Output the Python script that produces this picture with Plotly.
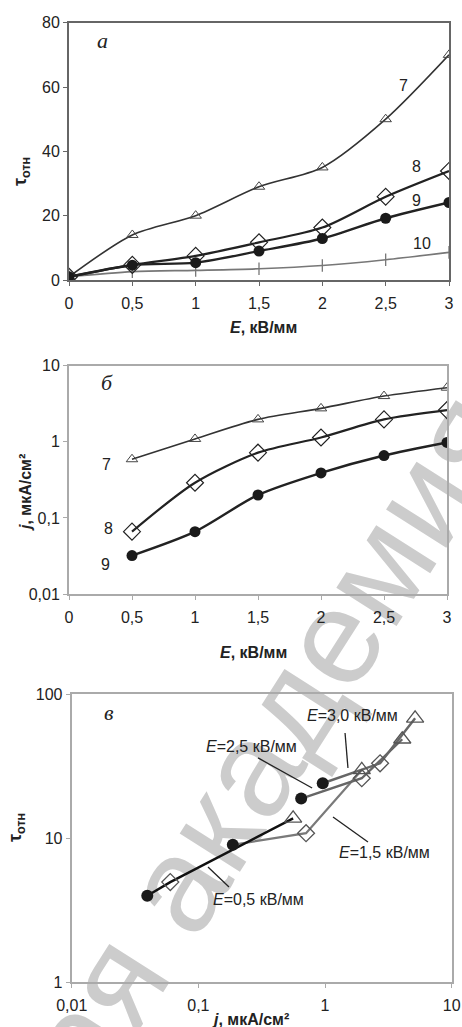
import base64
import plotly.graph_objects as go

# ---------------- data ----------------
E_a = [0, 0.5, 1, 1.5, 2, 2.5, 3]
tau7 = [1, 14, 20, 29, 35, 50, 70]
tau8 = [1, 4.7, 7.5, 11.7, 16.3, 25.9, 33.9]
tau9 = [1, 4.6, 5.4, 9, 12.9, 19.2, 24.1]
tau10 = [1, 2.6, 3.0, 3.5, 4.5, 6.3, 8.6]

E_b = [0.5, 1, 1.5, 2, 2.5, 3]
j7 = [0.59, 1.09, 1.97, 2.75, 3.99, 5.14]
j8 = [0.066, 0.29, 0.72, 1.14, 1.97, 2.61]
j9 = [0.032, 0.066, 0.2, 0.39, 0.66, 0.98]

# panel в: iso-E lines through (circle, diamond, triangle)
j_E05 = [0.0395, 0.060, 0.56]
t_E05 = [3.97, 4.94, 13.7]
j_E15 = [0.187, 0.708, 1.95]
t_E15 = [8.97, 10.8, 29.7]
j_E25 = [0.648, 1.95, 4.07]
t_E25 = [18.8, 26.0, 48.5]
j_E30 = [0.959, 2.72, 5.14]
t_E30 = [24.0, 33.0, 67.8]

xa_ticks = [0, 0.5, 1, 1.5, 2, 2.5, 3]
xa_text = ["0", "0,5", "1", "1,5", "2", "2,5", "3"]
ya_ticks = [0, 20, 40, 60, 80]
ya_text = ["0", "20", "40", "60", "80"]
yb_ticks = [0.01, 0.1, 1, 10]
yb_text = ["0,01", "0,1", "1", "10"]
xc_ticks = [0.01, 0.1, 1, 10]
xc_text = ["0,01", "0,1", "1", "10"]
yc_ticks = [1, 10, 100]
yc_text = ["1", "10", "100"]

W, H = 462, 1027
FONT = "Liberation Sans, Arial, sans-serif"
SERIF = "Liberation Serif, Times New Roman, serif"

fig = go.Figure()

# ---- panel a ----
fig.add_trace(go.Scatter(x=E_a, y=tau10, mode="lines+markers", xaxis="x", yaxis="y",
                         line=dict(color="#777", width=1.6, shape="spline", smoothing=0.8),
                         marker=dict(symbol="line-ns", size=9, line=dict(color="#777", width=1.3))))
fig.add_trace(go.Scatter(x=E_a, y=tau7, mode="lines+markers", xaxis="x", yaxis="y",
                         line=dict(color="#333", width=1.6, shape="spline", smoothing=0.8),
                         marker=dict(symbol="triangle-up-open", size=10, color="#444", line=dict(width=1))))
fig.add_trace(go.Scatter(x=E_a, y=tau8, mode="lines+markers", xaxis="x", yaxis="y",
                         line=dict(color="#222", width=2.2, shape="spline", smoothing=0.8),
                         marker=dict(symbol="diamond-open", size=13, color="#222", line=dict(width=1.2))))
fig.add_trace(go.Scatter(x=E_a, y=tau9, mode="lines+markers", xaxis="x", yaxis="y",
                         line=dict(color="#222", width=2.4, shape="spline", smoothing=0.8),
                         marker=dict(symbol="circle", size=11, color="#1a1a1a")))

# ---- panel б ----
fig.add_trace(go.Scatter(x=E_b, y=j7, mode="lines+markers", xaxis="x2", yaxis="y2",
                         line=dict(color="#333", width=1.6, shape="spline", smoothing=0.8),
                         marker=dict(symbol="triangle-up-open", size=10, color="#444", line=dict(width=1))))
fig.add_trace(go.Scatter(x=E_b, y=j8, mode="lines+markers", xaxis="x2", yaxis="y2",
                         line=dict(color="#222", width=2.2, shape="spline", smoothing=0.8),
                         marker=dict(symbol="diamond-open", size=13, color="#222", line=dict(width=1.2))))
fig.add_trace(go.Scatter(x=E_b, y=j9, mode="lines+markers", xaxis="x2", yaxis="y2",
                         line=dict(color="#222", width=2.4, shape="spline", smoothing=0.8),
                         marker=dict(symbol="circle", size=11, color="#1a1a1a")))

# ---- panel в ----
series_c = [(j_E15, t_E15, "#7a7a7a", 2.2), (j_E25, t_E25, "#666", 2.4),
            (j_E30, t_E30, "#666", 2.4), (j_E05, t_E05, "#111", 2.4)]
for jj, tt, lc, lw in series_c:
    fig.add_trace(go.Scatter(x=jj, y=tt, mode="lines", xaxis="x3", yaxis="y3",
                             line=dict(color=lc, width=lw)))
all_series = [series_c[3], series_c[0], series_c[1], series_c[2]]
fig.add_trace(go.Scatter(x=[s[0][1] for s in all_series], y=[s[1][1] for s in all_series],
                         mode="markers", xaxis="x3", yaxis="y3",
                         marker=dict(symbol="diamond-open", size=13, color="#555", line=dict(width=1.3))))
fig.add_trace(go.Scatter(x=[s[0][2] for s in all_series], y=[s[1][2] for s in all_series],
                         mode="markers", xaxis="x3", yaxis="y3",
                         marker=dict(symbol="triangle-up-open", size=15, color="#555", line=dict(width=1.3))))
fig.add_trace(go.Scatter(x=[s[0][0] for s in all_series], y=[s[1][0] for s in all_series],
                         mode="markers", xaxis="x3", yaxis="y3",
                         marker=dict(symbol="circle", size=12, color="#1a1a1a")))


def px2paper_x(px):
    return px / W


def px2paper_y(py):
    return 1 - py / H


axis_common = dict(showline=True, mirror=True, ticks="outside", ticklen=4, showgrid=False,
                   zeroline=False, automargin=False,
                   tickfont=dict(family=FONT, size=16, color="#222"))

# background watermark (drawn below the plots)
svg = (f'<svg xmlns="http://www.w3.org/2000/svg" width="{W}" height="{H}" viewBox="0 0 {W} {H}">'
       '<text x="308" y="765" text-anchor="middle" font-family="Liberation Sans, Arial, sans-serif" '
       'font-size="135" fill="#cccccc" transform="rotate(-57.5 308 765)">ая академия</text></svg>')
wm_src = "data:image/svg+xml;base64," + base64.b64encode(svg.encode("utf-8")).decode()

fig.update_layout(
    width=W, height=H, margin=dict(l=0, r=0, t=0, b=0),
    paper_bgcolor="white", plot_bgcolor="rgba(0,0,0,0)", showlegend=False,
    images=[dict(source=wm_src, xref="paper", yref="paper", x=0, y=1, sizex=1, sizey=1,
                 xanchor="left", yanchor="top", sizing="stretch", layer="below")],
    xaxis=dict(domain=[69 / W, 449 / W], anchor="y", range=[0, 3], tickvals=xa_ticks, ticktext=xa_text,
               linecolor="#666", linewidth=2, tickcolor="#666", ticklabelstandoff=4, **axis_common),
    yaxis=dict(domain=[px2paper_y(280), px2paper_y(22.7)], anchor="x", range=[0, 80], tickvals=ya_ticks,
               ticktext=ya_text, linecolor="#666", linewidth=2, tickcolor="#666", **axis_common),
    xaxis2=dict(domain=[69 / W, 447 / W], anchor="y2", range=[0, 3], tickvals=xa_ticks, ticktext=xa_text,
                linecolor="#aaa", linewidth=2, tickcolor="#aaa", ticklabelstandoff=4, **axis_common),
    yaxis2=dict(domain=[px2paper_y(594), px2paper_y(365.7)], anchor="x2", type="log", range=[-2, 1],
                tickvals=yb_ticks, ticktext=yb_text, linecolor="#aaa", linewidth=2, tickcolor="#aaa",
                **axis_common),
    xaxis3=dict(domain=[71.7 / W, 451.7 / W], anchor="y3", type="log", range=[-2, 1], tickvals=xc_ticks,
                ticktext=xc_text, linecolor="#aaa", linewidth=2, tickcolor="#aaa", ticklabelstandoff=4,
                **axis_common),
    yaxis3=dict(domain=[px2paper_y(982), px2paper_y(694)], anchor="x3", type="log", range=[0, 2],
                tickvals=yc_ticks, ticktext=yc_text, linecolor="#aaa", linewidth=2, tickcolor="#aaa",
                **axis_common),
)

ann = []


def txt(x, y, text, xref="paper", yref="paper", size=16, family=FONT, angle=0, color="#222"):
    ann.append(dict(x=x, y=y, xref=xref, yref=yref, text=text, showarrow=False, textangle=angle,
                    font=dict(family=family, size=size, color=color), xanchor="center", yanchor="middle"))


# axis titles
txt(px2paper_x(263), px2paper_y(327), "<b><i>E</i>, кВ/мм</b>")
txt(px2paper_x(253), px2paper_y(652), "<b><i>E</i>, кВ/мм</b>")
txt(px2paper_x(250), px2paper_y(1019), "<b><i>j</i>, мкА/см²</b>")
txt(px2paper_x(22), px2paper_y(172), "<b>τ<sub>отн</sub></b>", angle=-90, size=18)
txt(px2paper_x(25), px2paper_y(493), "<b><i>j</i>, мкА/см²</b>", angle=-90)
txt(px2paper_x(16), px2paper_y(828), "<b>τ<sub>отн</sub></b>", angle=-90, size=18)

# panel letters
txt(0.268, 74.5, "<i>а</i>", "x", "y", size=22, family=SERIF)
txt(0.30, 0.773, "<i>б</i>", "x2", "y2", size=22, family=SERIF)
txt(-1.706, 1.875, "<i>в</i>", "x3", "y3", size=22, family=SERIF)

# curve labels
txt(2.637, 60.6, "7", "x", "y")
txt(2.747, 35.4, "8", "x", "y")
txt(2.747, 24.6, "9", "x", "y")
txt(2.787, 11.2, "10", "x", "y")
txt(0.30, -0.292, "7", "x2", "y2")
txt(0.31, -1.133, "8", "x2", "y2")
txt(0.29, -1.606, "9", "x2", "y2")

# panel в labels
txt(0.213, 1.854, "<i>E</i>=3,0 кВ/мм", "x3", "y3")
txt(-0.577, 1.632, "<i>E</i>=2,5 кВ/мм", "x3", "y3")
txt(0.473, 0.896, "<i>E</i>=1,5 кВ/мм", "x3", "y3")
txt(-0.529, 0.576, "<i>E</i>=0,5 кВ/мм", "x3", "y3")

fig.update_layout(annotations=ann)

# leader lines (log10 coords for log axes)
leaders = [(0.158, 1.729, 0.181, 1.486), (-0.529, 1.556, -0.102, 1.347),
           (0.063, 1.146, 0.339, 0.972), (-0.924, 0.799, -0.758, 0.660)]
for x0, y0, x1, y1 in leaders:
    fig.add_shape(type="line", xref="x3", yref="y3", x0=10 ** x0, y0=10 ** y0, x1=10 ** x1, y1=10 ** y1,
                  line=dict(color="#222", width=1.3))

fig.write_html("out.html")
